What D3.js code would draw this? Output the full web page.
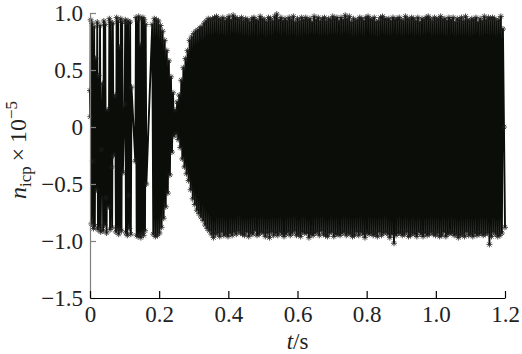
<!DOCTYPE html>
<html>
<head>
<meta charset="utf-8">
<script src="https://cdn.jsdelivr.net/npm/d3@7"></script>
<style>
  body { margin: 0; background: #fff; }
  svg { display: block; }
  text { font-family: 'Liberation Serif', 'Times New Roman', serif; }
</style>
</head>
<body>
<div id="chart"></div>
<script>
// time in ms, values in units of 0.01 (axis shows n_icp x 1e-5)
const tEarly = [0,1,2,4,6,8,10,12,14,16, 19,21,23,25,27,29,31,33, 36,38,40,42,44,46,48,50,
  54,56,58,60,62,64,66,68, 73,75,77,79,81,83,85,87,89,91,93,95,
  100,102,104,106,108,110,112,114,116,118,120,
  131,133,135,137,139,141,143,145,147,149,151,153,155,157,159,161,163];
const vEarly = [32,9,94,-85,91,-30,-89,88,-87,60, -55,92,-90,45,-88,89,-92,-20, 38,-91,93,-86,90,-62,-93,15,
  -70,95,-90,92,-35,-88,91,-25, 28,-92,96,-89,93,-94,70,-90,95,-91,92,-40,
  20,94,-93,91,-95,93,-60,-89,92,-94,35,
  -30,96,-95,93,-96,97,-94,72,-97,95,-93,96,-95,94,-91,90,-50];

const tMid = [180,183,186,189,192,195,198,201,204,207,
  210,213,216,219,222,225,228,231,234,237,
  240,243,246,249,252,255,258,261,264,267,
  270,273,276,279,282,285,288,291,294,297,
  300,303,306,309,312,315,318,321,324,327,
  330,333,336,339,342,345,348,351];
const vMid = [90,-94,95,-96,94,-95,93,-93,89,-88,
  84,-80,76,-70,67,-58,58,-42,44,-22,
  30,-8,15,-6,22,-11,28,-18,41,-28,
  52,-35,60,-41,67,-47,76,-55,79,-63,
  82,-68,84,-73,85,-76,87,-79,88,-82,
  91,-86,93,-89,95,-91,94,-94];

const tLate = [354,357,360,363,366,369,372,375,378,381,
  384,387,390,393,396,399,402,405,408,411,
  414,417,420,423,426,429,432,435,438,441,
  444,447,450,453,456,459,462,465,468,471,
  474,477,480,483,486,489,492,495,498,501,
  504,507,510,513,516,519,522,525,528,531,
  534,537,540,543,546,549,552,555,558,561,
  564,567,570,573,576,579,582,585,588,591,
  594,597,600,603,606,609,612,615,618,621,
  624,627,630,633,636,639,642,645,648,651,
  654,657,660,663,666,669,672,675,678,681,
  684,687,690,693,696,699,702,705,708,711,
  714,717,720,723,726,729,732,735,738,741,
  744,747,750,753,756,759,762,765,768,771,
  774,777,780,783,786,789,792,795,798,801,
  804,807,810,813,816,819,822,825,828,831,
  834,837,840,843,846,849,852,855,858,861,
  864,867,870,873,876,879,882,885,888,891,
  894,897,900,903,906,909,912,915,918,921,
  924,927,930,933,936,939,942,945,948,951,
  954,957,960,963,966,969,972,975,978,981,
  984,987,990,993,996,999,1002,1005,1008,1011,
  1014,1017,1020,1023,1026,1029,1032,1035,1038,1041,
  1044,1047,1050,1053,1056,1059,1062,1065,1068,1071,
  1074,1077,1080,1083,1086,1089,1092,1095,1098,1101,
  1104,1107,1110,1113,1116,1119,1122,1125,1128,1131,
  1134,1137,1140,1143,1146,1149,1152,1155,1158,1161,
  1164,1167,1170,1173,1176,1179,1182,1185,1188,1191,
  1194,1197,1200];
const vLate = [95,-97,96,-94,97,-93,95,-96,94,-92,
  96,-95,93,-94,95,-96,97,-93,94,-95,
  98,-92,96,-94,95,-91,94,-93,96,-94,
  93,-95,95,-92,94,-96,92,-93,95,-94,
  96,-91,94,-95,93,-94,97,-92,95,-93,
  94,-96,92,-93,96,-97,95,-92,93,-95,
  97,-93,99,-95,94,-92,96,-94,93,-96,
  95,-94,93,-92,96,-95,94,-93,97,-91,
  92,-95,95,-94,93,-96,96,-92,94,-93,
  96,-93,94,-97,95,-94,92,-95,97,-93,
  94,-92,96,-95,93,-91,95,-94,96,-95,
  93,-96,95,-93,94,-92,97,-96,95,-94,
  96,-94,93,-95,96,-93,94,-92,98,-95,
  95,-93,97,-94,92,-96,95,-95,93,-92,
  94,-95,96,-92,95,-94,93,-97,96,-93,
  97,-94,95,-93,94,-95,96,-94,92,-96,
  93,-92,96,-95,97,-93,95,-92,94,-94,
  95,-97,93,-94,96,-102,94,-95,95,-93,
  96,-93,94,-95,93,-94,97,-92,95,-96,
  94,-95,96,-93,95,-94,93,-96,96,-92,
  92,-94,95,-96,94,-93,96,-95,97,-94,
  95,-92,93,-94,96,-95,94,-93,95,-96,
  97,-95,94,-92,95,-96,93,-94,96,-93,
  94,-93,96,-95,92,-94,95,-97,94,-95,
  96,-94,93,-96,97,-92,94,-95,93,-94,
  95,-96,94,-93,96,-95,92,-94,95,-93,
  93,-95,97,-94,94,-93,96,-103,95,-96,
  96,-92,95,-94,93,-96,94,-95,97,-93,
  86,0,-88];

const xTicks = [0, 0.2, 0.4, 0.6, 0.8, 1.0, 1.2];
const xTickLabels = ['0', '0.2', '0.4', '0.6', '0.8', '1.0', '1.2'];
const yTicks = [-1.5, -1, -0.5, 0, 0.5, 1];
const yTickLabels = ['\u22121.5', '\u22121.0', '\u22120.5', '0', '0.5', '1.0'];

const W = 522, H = 354;
const margin = { left: 90, right: 17, top: 13, bottom: 56 };
const width = W - margin.left - margin.right;
const height = H - margin.top - margin.bottom;
const font = "'Liberation Serif', 'Times New Roman', serif";

const data = [];
[[tEarly, vEarly], [tMid, vMid], [tLate, vLate]].forEach(([ts, vs]) => {
  ts.forEach((t, i) => data.push({ t: t / 1000, v: vs[i] / 100 }));
});

const svg = d3.select('#chart')
  .append('svg')
  .attr('width', W)
  .attr('height', H);

const g = svg.append('g')
  .attr('transform', 'translate(' + margin.left + ',' + margin.top + ')');

const x = d3.scaleLinear().domain([0, 1.2]).range([0, width]);
const y = d3.scaleLinear().domain([-1.5, 1]).range([height, 0]);

// signal line
const line = d3.line()
  .x(d => x(d.t))
  .y(d => y(d.v));

g.append('path')
  .datum(data)
  .attr('fill', 'none')
  .attr('stroke', '#0b0d08')
  .attr('stroke-width', 1.9)
  .attr('stroke-linejoin', 'bevel')
  .attr('d', line);

// asterisk markers
const star = 'M-3,0H3M0,-3V3M-2.1,-2.1L2.1,2.1M-2.1,2.1L2.1,-2.1';
g.append('g')
  .selectAll('path')
  .data(data)
  .enter()
  .append('path')
  .attr('transform', d => 'translate(' + x(d.t) + ',' + y(d.v) + ')')
  .attr('d', star)
  .attr('fill', 'none')
  .attr('stroke', '#1c1c1a')
  .attr('stroke-width', 0.8);

// left axis
const yAxis = g.append('g')
  .call(d3.axisLeft(y)
    .tickValues(yTicks)
    .tickFormat((d, i) => yTickLabels[i])
    .tickSizeInner(-6)
    .tickSizeOuter(0)
    .tickPadding(7));
yAxis.attr('font-family', null).attr('font-size', null);
yAxis.select('.domain').attr('stroke', '#808080').attr('stroke-width', 1.2);
yAxis.selectAll('.tick line').attr('stroke', '#808080').attr('stroke-width', 1.2);
yAxis.selectAll('text')
  .style('font-family', font)
  .style('font-size', '23px')
  .attr('fill', '#222');

// bottom axis
const xAxis = g.append('g')
  .attr('transform', 'translate(0,' + height + ')')
  .call(d3.axisBottom(x)
    .tickValues(xTicks)
    .tickFormat((d, i) => xTickLabels[i])
    .tickSizeInner(-7)
    .tickSizeOuter(0)
    .tickPadding(8));
xAxis.attr('font-family', null).attr('font-size', null);
xAxis.select('.domain').attr('stroke', '#000').attr('stroke-width', 1.2);
xAxis.selectAll('.tick line').attr('stroke', '#000').attr('stroke-width', 1.2);
xAxis.selectAll('text')
  .style('font-family', font)
  .style('font-size', '23px')
  .attr('fill', '#222');

// x label
const xl = svg.append('text')
  .attr('x', margin.left + width / 2)
  .attr('y', 349)
  .attr('text-anchor', 'middle')
  .style('font-family', font)
  .style('font-size', '23px')
  .attr('fill', '#222');
xl.append('tspan').attr('font-style', 'italic').text('t');
xl.append('tspan').text('/s');

// y label
const yl = svg.append('text')
  .attr('transform', 'translate(26,150) rotate(-90)')
  .attr('text-anchor', 'middle')
  .style('font-family', font)
  .style('font-size', '24px')
  .attr('fill', '#222');
yl.append('tspan').attr('font-style', 'italic').text('n');
yl.append('tspan').style('font-size', '17px').attr('dy', 5).text('icp');
yl.append('tspan').attr('dy', -5).text('\u2009\u00d7\u200910');
yl.append('tspan').style('font-size', '17px').attr('dy', -9).text('\u22125');
</script>
</body>
</html>
